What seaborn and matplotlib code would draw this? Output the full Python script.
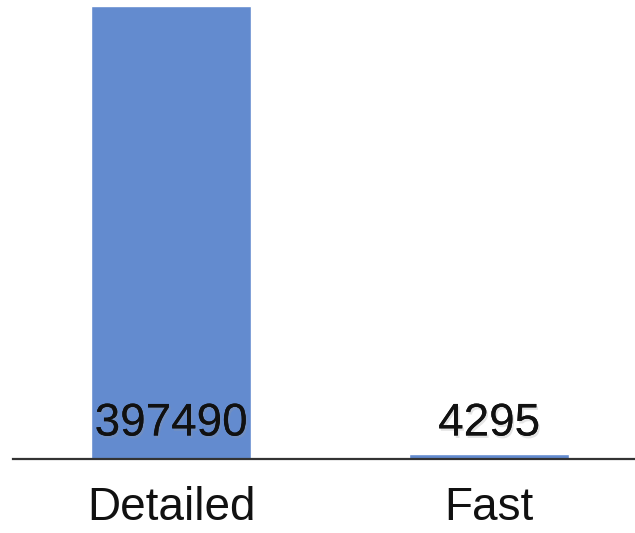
import matplotlib
matplotlib.use("Agg")
import matplotlib.pyplot as plt
import matplotlib.patheffects as pe
import matplotlib.transforms as mtransforms
import seaborn as sns
import pandas as pd

categories = ["Detailed", "Fast"]
values = [397490, 4295]

sns.set_theme(style="white")
plt.rcParams["font.family"] = ["Liberation Sans", "DejaVu Sans"]

df = pd.DataFrame({"mode": categories, "count": values})

W, H = 635, 533
fig = plt.figure(figsize=(W / 100, H / 100), dpi=100)
ax = fig.add_axes([13 / W, (H - 459) / H, 1 - 13 / W, 453 / H])

sns.barplot(data=df, x="mode", y="count", color="#638bcf", saturation=1,
            width=0.503, ax=ax)

ax.set_xlim(-0.497, 1.459)
ax.set_ylim(0, max(values))

# value labels sit just above the baseline, with a soft drop shadow
label_tf = ax.get_xaxis_transform() + mtransforms.ScaledTranslation(0, 0.235, fig.dpi_scale_trans)
for i, v in enumerate(values):
    ax.text(i, 0, f"{v}", ha="center", va="baseline", fontsize=33,
            color="#111111", transform=label_tf,
            path_effects=[pe.withSimplePatchShadow(offset=(1.2, -1.8), shadow_rgbFace="#999999", alpha=0.25),
                          pe.Normal()])

ax.set_xlabel("")
ax.set_ylabel("")
ax.set_yticks([])
ax.tick_params(axis="x", length=0, pad=19.5, labelsize=33, labelcolor="#111111")
for s in ["top", "right", "left"]:
    ax.spines[s].set_visible(False)
ax.spines["bottom"].set_color("#333333")
ax.spines["bottom"].set_linewidth(1.6)

fig.savefig("out.png", dpi=100)
